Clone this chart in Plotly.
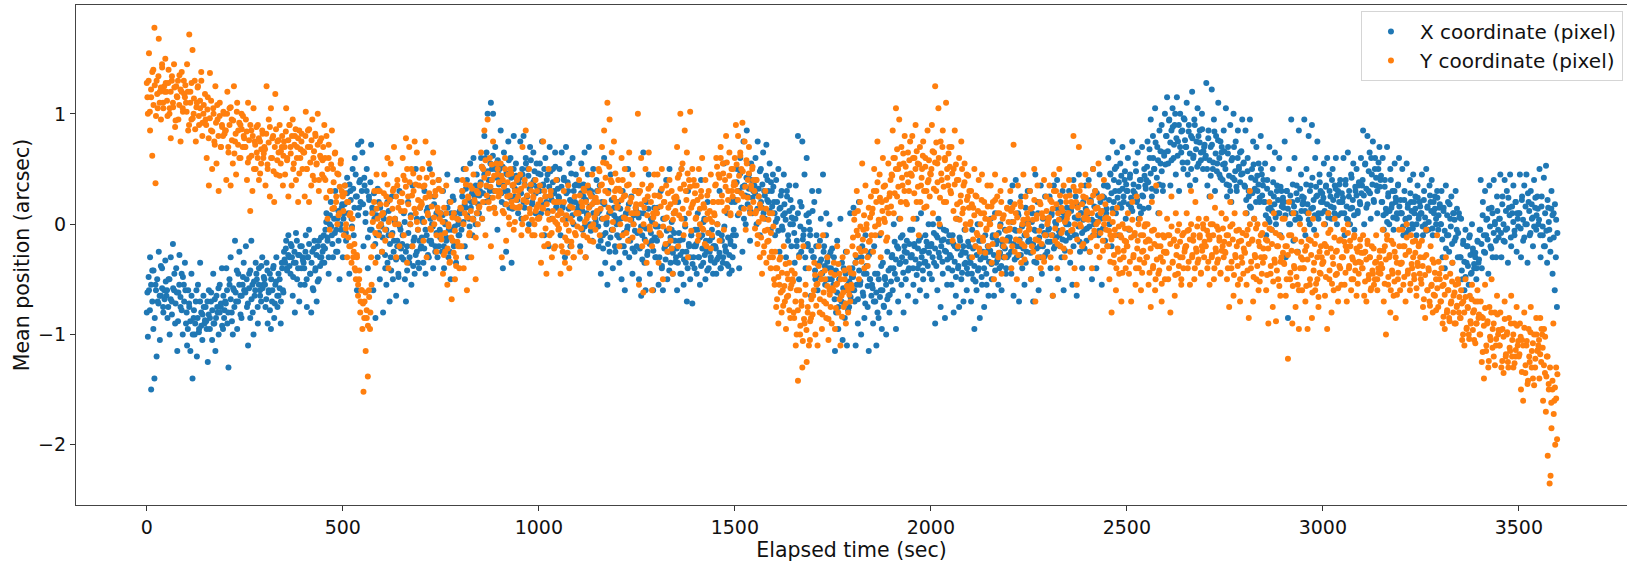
import plotly.graph_objects as go

CHUNK_SEC = 50
x_title = "Elapsed time (sec)"
y_title = "Mean position (arcsec)"
x_ticks = [0, 500, 1000, 1500, 2000, 2500, 3000, 3500]
y_ticks = [-2, -1, 0, 1]
y_tick_labels = ["\u22122", "\u22121", "0", "1"]

# Y values, one row per 50 s of elapsed time: the full spread
x_coord_rows = [
[-0.8,-1.02,-0.6,-0.3,-1.5,-0.42,-0.95,-1.4,-0.55,-1.2,-0.7,-0.25,-1.05,-0.65,-0.4,-0.75,-0.6,-0.33],
[-0.65,-0.85,-0.5,-1.0,-0.3,-0.7,-0.18,-0.6,-0.9,-0.4,-1.15,-0.62,-0.28,-0.75,-0.45,-1.0,-0.55,-0.35],
[-0.9,-1.1,-0.6,-0.75,-1.15,-0.45,-1.4,-0.85,-1.0,-0.7,-1.2,-0.55,-0.95,-0.35,-0.8,-1.05,-0.65,-0.9],
[-0.75,-0.95,-1.25,-0.6,-0.85,-0.7,-1.05,-0.45,-0.9,-1.15,-0.65,-0.8,-1.0,-0.55,-0.75,-0.4,-0.95,-0.85],
[-0.7,-0.4,-0.9,-1.3,-0.55,-0.3,-0.8,-1.0,-0.6,-0.15,-0.7,-0.95,-0.45,-0.25,-0.65,-0.85,-0.55,-0.35],
[-0.6,-0.2,-0.75,-1.1,-0.45,-0.85,-0.15,-0.55,-1.0,-0.65,-0.35,-0.5,-0.9,-0.4,-0.6,-0.7,-0.3,-0.55],
[-0.5,-0.75,-0.35,-0.9,-0.6,-0.45,-0.95,-0.7,-0.4,-0.85,-0.55,-0.3,-0.75,-0.65,-0.5,-0.9,-0.35,-0.6],
[-0.25,-0.35,-0.15,-0.4,-0.1,-0.3,-0.45,-0.2,-0.65,-0.35,-0.8,-0.08,-0.5,-0.28,-0.7,-0.2,-0.4,-0.3],
[-0.35,-0.55,-0.1,-0.75,-0.3,-0.05,-0.45,-0.8,-0.25,-0.6,-0.15,-0.4,-0.7,-0.2,-0.5,-0.3,-0.12,-0.35],
[-0.2,-0.35,-0.05,0.1,-0.15,-0.45,0.0,0.2,-0.1,-0.3,0.05,0.3,-0.05,-0.25,0.12,-0.5,0.0,0.15],
[-0.3,0.1,0.35,-0.15,0.42,0.2,-0.45,0.3,0.05,0.5,-0.1,0.6,0.25,-0.6,0.72,0.15,0.4,0.75],
[0.65,-0.2,0.35,0.1,0.5,-0.4,0.25,-0.05,0.72,0.15,-0.6,0.05,-0.85,-0.1,-0.3,0.2,-0.5,0.0],
[-0.25,-0.8,0.1,-0.4,-0.55,0.2,-0.1,-0.7,-0.3,0.25,-0.5,-0.15,0.05,-0.65,-0.2,-0.45,0.3,-0.05],
[-0.3,-0.1,0.1,-0.5,-0.7,-0.2,0.2,-0.35,0.0,-0.55,0.35,-0.15,-0.45,0.5,-0.25,-0.05,-0.4,0.15],
[-0.2,0.05,-0.35,0.3,-0.45,-0.1,0.15,-0.3,0.5,-0.15,0.0,-0.4,0.25,-0.2,0.1,-0.3,0.4,-0.05],
[0.1,-0.25,0.3,-0.4,0.0,-0.15,0.45,-0.3,0.2,-0.5,-0.05,0.25,-0.2,0.1,-0.35,0.4,0.0,-0.1],
[0.1,-0.05,0.3,0.5,-0.2,0.15,0.4,-0.3,0.05,0.55,0.2,-0.1,0.6,0.25,0.0,0.45,0.3,0.1],
[0.3,0.6,0.05,0.5,0.8,0.2,0.65,1.0,0.4,0.3,1.1,0.5,1.0,0.15,0.7,0.55,-0.05,0.45],
[0.5,0.85,0.2,-0.4,0.65,0.3,-0.25,0.45,0.75,0.15,0.6,-0.35,0.35,0.8,0.25,0.55,0.4,0.1],
[0.3,0.75,0.05,0.45,0.8,0.15,0.6,0.25,0.5,0.0,0.7,0.35,0.2,0.65,0.4,0.1,0.55,0.3],
[0.3,0.55,0.1,0.75,0.35,-0.1,0.6,0.2,0.45,-0.2,0.7,0.25,0.05,0.5,0.3,0.65,0.15,0.4],
[0.25,0.5,-0.1,0.65,0.15,0.4,-0.3,0.7,0.05,0.3,0.55,-0.2,0.2,0.6,0.0,0.35,0.45,0.1],
[0.15,0.35,-0.2,0.55,-0.05,0.25,0.65,-0.3,0.1,0.45,0.7,0.0,0.3,-0.15,0.5,0.2,0.05,0.4],
[0.1,-0.2,0.35,-0.45,0.2,-0.1,0.6,-0.35,0.0,-0.55,0.3,-0.25,0.45,-0.05,-0.4,0.15,-0.2,0.05],
[-0.1,0.2,-0.35,0.05,-0.5,0.3,-0.2,-0.6,0.1,-0.05,0.5,-0.3,-0.15,0.25,-0.45,0.0,-0.25,0.15],
[-0.2,0.3,-0.5,0.1,-0.65,-0.1,0.65,-0.35,-0.6,0.2,-0.25,0.45,-0.45,0.05,-0.15,-0.6,0.15,-0.3],
[-0.3,0.15,-0.55,-0.1,0.3,-0.4,-0.6,0.05,-0.2,0.4,-0.5,-0.25,0.5,-0.35,-0.05,-0.45,0.1,-0.15],
[-0.3,-0.6,0.2,-0.15,-0.45,0.5,-0.25,-0.55,0.05,-0.35,-0.7,0.3,-0.2,-0.5,-0.1,-0.72,-0.3,-0.4],
[-0.2,-0.45,0.1,-0.3,-0.55,0.4,-0.1,-0.35,0.05,-0.5,-0.25,0.2,-0.4,-0.15,-0.3,-0.05,-0.45,-0.2],
[-0.2,-0.45,0.0,-0.3,0.3,-0.4,-0.1,-0.35,0.55,-0.2,-0.25,0.1,-0.38,-0.45,-0.15,0.2,-0.3,-0.05],
[0.2,-0.1,0.5,0.3,-0.4,0.6,0.15,-0.25,0.75,0.35,0.0,0.85,0.25,0.45,-0.15,0.55,0.1,0.3],
[0.35,0.6,0.0,0.75,0.25,-0.1,0.5,0.15,0.65,0.3,0.05,0.72,0.4,0.2,0.55,-0.05,0.3,0.45],
[0.2,-0.1,0.4,0.05,0.5,-0.25,0.15,0.3,-0.05,0.45,0.1,-0.3,0.25,-0.15,0.35,0.0,-0.2,0.15],
[0.05,-0.35,0.35,-0.15,0.8,-0.5,0.2,-0.25,0.75,-0.1,0.45,-0.4,0.6,-0.2,0.1,-0.05,-0.65,0.3],
[-0.3,0.2,-0.5,-0.1,-0.6,0.3,-0.35,0.05,-0.45,0.45,-0.2,-0.55,0.1,-0.3,-0.4,0.0,-0.25,-0.5],
[-0.6,-0.3,-1.15,-0.8,-0.15,-0.95,-0.5,0.05,-0.7,-1.05,-0.4,-0.85,-0.25,-1.1,-0.55,-0.75,0.1,-0.6],
[-0.4,0.15,-0.7,-1.1,-0.3,-0.9,0.2,-0.55,-1.0,-0.2,-0.65,-0.85,-0.1,-0.45,-0.75,-1.15,-0.5,-0.25],
[-0.55,-0.9,-0.2,-0.7,-1.1,-0.45,-0.85,-0.1,-0.6,-0.95,-0.35,-0.75,-0.5,-1.0,-0.25,-0.65,-0.8,-0.4],
[-0.3,-0.6,0.0,-0.45,-0.95,-0.2,-0.7,0.05,-0.35,-0.55,-0.1,-0.8,-0.25,-0.5,-0.15,-0.65,-0.4,-0.05],
[-0.3,-0.05,-0.55,-0.2,-0.7,0.05,-0.4,-0.15,-0.6,0.1,-0.25,-0.5,-0.35,-0.1,-0.65,-0.2,0.0,-0.45],
[-0.2,-0.5,0.0,-0.35,-0.9,-0.1,-0.6,0.05,-0.3,-0.75,-0.15,-0.45,-0.05,-0.85,-0.25,-0.55,-0.4,-0.1],
[-0.3,-0.55,-0.1,-0.8,-0.2,-0.65,0.05,-0.4,-0.75,-0.15,-0.5,-0.25,-0.7,-0.05,-0.35,-0.6,-0.45,-0.2],
[-0.35,-0.7,-0.05,-0.5,-0.95,-0.2,-0.6,0.0,-0.4,-0.85,-0.15,-0.55,-0.3,-0.75,-0.1,-0.45,-0.25,-0.65],
[-0.25,0.05,-0.5,-0.1,-0.65,0.1,-0.35,-0.15,-0.55,-0.4,0.0,-0.6,-0.2,-0.3,-0.05,-0.45,-0.3,-0.12],
[-0.15,0.2,-0.45,0.35,-0.65,-0.05,0.4,-0.3,0.1,-0.7,-0.2,0.25,-0.4,0.0,-0.55,0.15,-0.25,0.3],
[-0.15,0.3,-0.5,0.1,-0.7,-0.05,0.45,-0.35,0.2,-0.6,-0.2,0.35,-0.45,0.05,-0.3,0.25,-0.1,-0.25],
[-0.05,0.25,-0.4,0.1,-0.65,0.35,-0.2,0.0,0.4,-0.5,-0.1,0.2,-0.3,0.3,-0.6,0.05,-0.15,0.15],
[0.0,0.3,-0.35,0.15,-0.55,0.4,-0.1,0.25,-0.65,0.05,0.45,-0.25,0.1,-0.4,0.2,-0.05,0.35,-0.15],
[0.1,0.4,-0.25,0.2,-0.5,0.5,0.0,0.3,-0.4,0.15,-0.1,0.45,0.05,-0.55,0.25,0.35,-0.15,0.1],
[0.35,0.6,0.0,0.45,-0.2,0.75,0.2,0.5,0.1,0.65,-0.1,0.3,0.55,0.15,0.7,0.25,0.4,0.05],
[0.3,0.6,-0.05,0.45,0.15,0.75,0.3,-0.1,0.55,0.2,0.65,0.05,0.4,0.1,0.7,0.25,0.5,0.35],
[0.4,0.75,0.15,0.6,0.95,0.25,0.8,0.5,1.05,0.3,0.7,0.1,0.85,0.55,0.9,0.35,0.65,1.0],
[0.8,1.15,0.55,0.95,0.35,0.85,1.05,0.6,0.9,0.45,1.15,0.75,0.3,1.0,0.65,0.85,0.5,0.95],
[0.7,1.1,0.45,0.9,0.35,0.8,1.2,0.6,0.95,0.4,0.75,1.05,0.55,0.85,0.65,1.0,0.5,0.7],
[0.6,1.28,0.35,0.85,0.25,0.7,1.22,0.5,0.95,0.3,0.8,0.55,1.1,0.45,0.75,0.65,0.4,0.85],
[0.55,1.05,0.25,0.7,0.35,0.9,0.2,0.6,1.0,0.4,0.75,0.3,0.85,0.5,0.65,0.45,0.95,0.55],
[0.35,0.85,0.1,0.6,0.25,0.95,0.15,0.5,0.75,0.05,0.4,0.7,0.3,0.55,0.2,0.8,0.45,0.35],
[0.2,0.55,-0.1,0.4,0.05,0.7,0.15,-0.05,0.5,0.25,0.65,0.0,0.35,0.1,0.6,-0.1,0.3,0.2],
[0.15,0.75,-0.3,0.3,-0.85,0.5,0.0,0.95,0.2,-0.15,0.6,0.1,0.35,-0.25,0.85,0.05,0.45,0.25],
[0.2,0.95,-0.1,0.5,0.1,0.8,0.0,0.35,0.9,0.15,-0.05,0.6,0.25,0.75,0.05,0.45,0.3,0.1],
[0.2,0.55,0.0,0.35,0.6,0.1,0.45,0.25,0.05,0.5,0.15,0.35,0.6,0.0,0.3,0.2,0.4,0.1],
[0.2,0.6,-0.1,0.4,0.05,0.65,0.25,0.0,0.45,0.15,0.55,-0.05,0.3,0.5,0.1,0.35,0.2,0.6],
[0.35,0.85,0.0,0.55,0.15,0.8,0.3,0.65,0.05,0.45,0.75,0.2,0.6,0.35,0.1,0.5,0.7,0.4],
[0.2,0.6,-0.05,0.4,0.1,0.7,0.25,0.0,0.5,0.15,0.3,-0.05,0.55,0.2,0.05,0.35,0.6,0.1],
[0.1,0.5,-0.1,0.3,0.05,0.55,0.15,-0.05,0.4,0.2,0.0,0.45,0.1,0.25,-0.1,0.35,0.05,0.2],
[0.1,0.45,-0.1,0.3,0.0,0.5,0.15,-0.05,0.35,0.2,0.4,-0.1,0.1,0.25,0.05,0.3,-0.05,0.15],
[0.0,0.3,-0.3,0.15,-0.4,0.35,-0.1,0.2,-0.25,0.05,0.25,-0.35,0.1,-0.15,0.3,-0.05,-0.3,0.1],
[-0.3,0.05,-0.5,-0.15,-0.6,-0.05,-0.35,-0.2,-0.55,-0.1,-0.45,0.0,-0.25,-0.4,-0.3,-0.5,-0.15,-0.35],
[-0.05,0.4,-0.4,0.2,-0.25,0.3,-0.1,0.05,-0.45,0.35,-0.2,0.15,-0.3,0.4,0.0,-0.15,0.25,-0.05],
[0.05,0.45,-0.3,0.25,-0.15,0.4,-0.05,0.3,-0.35,0.15,0.45,-0.2,0.1,0.35,-0.1,0.2,-0.25,0.05],
[0.1,0.45,-0.3,0.25,-0.15,0.35,0.0,0.45,-0.35,0.2,-0.1,0.3,0.05,-0.2,0.4,0.15,-0.05,0.25],
[0.0,0.5,-0.3,0.25,-0.1,0.42,-0.2,0.53,-0.35,0.15,-0.05,-0.25,0.3,-0.45,0.1,-0.6,-0.3,-0.75],
]

# The same 50 s rows: the dense middle of the X band
x_core_rows = [
[-.62,-.48,-.78,-.55,-.7,-.42,-.85,-.6,-.5,-.72,-.65,-.38,-.58,-.8,-.68,-.52],
[-.6,-.75,-.5,-.68,-.82,-.58,-.45,-.72,-.62,-.88,-.55,-.66,-.78,-.48,-.7,-.6],
[-.8,-.95,-.72,-.88,-.65,-1.0,-.78,-.9,-.6,-.85,-.98,-.7,-.92,-.82,-.75,-.87],
[-.88,-.7,-.82,-.95,-.62,-.78,-.9,-.68,-.85,-.75,-.58,-.8,-.72,-.92,-.65,-.78],
[-.72,-.6,-.8,-.5,-.68,-.88,-.58,-.75,-.62,-.42,-.7,-.55,-.82,-.65,-.48,-.6],
[-.62,-.5,-.72,-.58,-.42,-.68,-.8,-.52,-.6,-.45,-.75,-.55,-.65,-.38,-.58,-.48],
[-.55,-.68,-.42,-.62,-.78,-.5,-.6,-.38,-.72,-.52,-.65,-.45,-.58,-.7,-.4,-.62],
[-.32,-.22,-.42,-.28,-.38,-.18,-.3,-.48,-.25,-.35,-.15,-.4,-.28,-.55,-.2,-.33],
[-.4,-.25,-.5,-.3,-.18,-.45,-.35,-.58,-.22,-.42,-.28,-.52,-.15,-.38,-.3,-.25],
[-.1,-.22,.02,-.12,-.3,.08,-.02,-.18,.14,-.08,-.25,.05,-.15,.1,-.05,.18],
[.05,.18,-.08,.28,.1,.36,.22,-.02,.32,.15,.45,.25,.08,.38,.2,.3],
[.18,.42,.02,.3,-.12,.22,.38,-.05,.12,.28,-.18,.08,.32,-.08,.15,-.02],
[-.12,.05,-.28,-.05,-.35,.12,-.18,-.42,-.08,-.25,.02,-.32,-.15,-.48,-.02,-.22],
[-.18,-.32,.02,-.25,-.42,-.08,-.3,.08,-.2,-.38,-.12,-.28,.05,-.35,-.15,-.22],
[-.12,.02,-.22,-.05,.12,-.28,-.15,.05,-.18,-.02,.18,-.25,-.08,.08,-.2,-.12],
[-.08,.08,-.2,.02,-.12,.15,-.05,-.25,.1,-.15,.22,-.02,-.18,.05,-.1,.12],
[.12,.25,.02,.18,.32,.08,.22,-.02,.15,.28,.05,.2,.35,.1,.18,.26],
[.38,.52,.28,.45,.6,.34,.48,.24,.55,.4,.62,.3,.5,.42,.58,.36],
[.4,.28,.52,.35,.18,.46,.3,.58,.24,.42,.14,.5,.32,.44,.22,.38],
[.42,.28,.5,.2,.36,.55,.25,.44,.32,.58,.18,.38,.48,.28,.34,.46],
[.3,.45,.18,.36,.5,.25,.4,.12,.34,.48,.22,.38,.28,.52,.16,.32],
[.24,.1,.34,.18,.42,.05,.28,.38,.14,.22,.46,.08,.3,.2,.36,.12],
[.18,.05,.28,.12,.36,-.02,.22,.08,.32,.16,-.06,.26,.1,.2,.02,.3],
[-.02,.12,-.15,.05,-.22,.18,-.08,.02,-.18,.1,-.12,.22,-.05,.08,-.25,0],
[.02,-.12,.14,-.2,.06,-.08,-.26,.1,-.02,.18,-.14,.04,-.22,.08,-.06,.12],
[-.08,.06,-.22,-.02,-.32,.1,-.14,-.04,-.28,.14,-.18,-.08,.02,-.24,-.12,-.02],
[-.15,-.02,-.3,-.1,-.38,.05,-.22,-.32,-.06,-.18,-.42,-.12,.02,-.26,-.08,-.34],
[-.22,-.35,-.08,-.28,-.45,-.14,-.32,-.02,-.25,-.4,-.18,-.3,-.1,-.36,-.2,-.05],
[-.18,-.05,-.3,-.12,-.38,-.22,.02,-.28,-.15,-.42,-.08,-.25,-.33,-.12,-.2,-.35],
[-.22,-.32,-.08,-.26,-.4,-.15,-.3,-.02,-.24,-.36,-.12,-.28,-.18,-.42,-.1,-.2],
[.22,.38,.08,.3,.46,.15,.34,.05,.26,.42,.18,.32,.12,.4,.24,.3],
[.28,.4,.14,.32,.48,.2,.36,.1,.26,.44,.22,.3,.12,.38,.16,.34],
[.1,.02,.2,-.06,.14,.26,-.02,.08,.18,.04,.3,-.1,.12,.22,.06,0],
[-.08,.05,-.2,.1,-.28,-.02,.16,-.14,-.05,-.3,.08,-.18,.02,-.1,-.24,.12],
[-.3,-.42,-.2,-.36,-.48,-.15,-.32,-.44,-.25,-.38,-.1,-.34,-.5,-.28,-.4,-.22],
[-.55,-.68,-.42,-.62,-.75,-.5,-.65,-.35,-.58,-.72,-.45,-.6,-.78,-.52,-.66,-.48],
[-.48,-.6,-.35,-.55,-.68,-.42,-.52,-.3,-.62,-.45,-.72,-.38,-.56,-.28,-.5,-.65],
[-.58,-.7,-.45,-.62,-.8,-.5,-.66,-.38,-.6,-.74,-.48,-.55,-.68,-.42,-.64,-.52],
[-.28,-.4,-.16,-.32,-.5,-.22,-.36,-.12,-.3,-.44,-.2,-.34,-.26,-.42,-.18,-.3],
[-.28,-.4,-.18,-.32,-.46,-.22,-.36,-.12,-.3,-.42,-.24,-.34,-.16,-.38,-.26,-.2],
[-.18,-.3,-.08,-.22,-.38,-.12,-.26,-.02,-.2,-.34,-.14,-.24,-.06,-.32,-.16,-.28],
[-.3,-.42,-.18,-.34,-.48,-.22,-.38,-.12,-.28,-.44,-.2,-.36,-.26,-.4,-.16,-.3],
[-.35,-.45,-.22,-.38,-.52,-.28,-.42,-.15,-.32,-.48,-.25,-.4,-.3,-.55,-.2,-.34],
[-.24,-.36,-.12,-.28,-.42,-.18,-.32,-.08,-.26,-.38,-.16,-.3,-.22,-.4,-.14,-.28],
[-.12,-.25,.02,-.18,-.32,-.06,-.2,.08,-.14,-.28,-.02,-.22,-.1,-.35,.04,-.16],
[-.14,-.26,.02,-.18,-.34,-.06,-.22,.1,-.12,-.3,-.02,-.2,-.08,-.28,.05,-.16],
[-.04,-.16,.08,-.1,-.22,.02,-.12,.14,-.06,-.2,.05,-.14,.1,-.24,0,-.08],
[0,-.12,.12,-.06,-.2,.06,-.1,.18,-.02,-.16,.1,-.08,.04,-.22,.14,-.04],
[.1,-.02,.22,.04,-.1,.16,.02,.28,.08,-.06,.2,.12,-.04,.24,.06,.14],
[.34,.22,.46,.28,.14,.4,.3,.52,.24,.38,.18,.44,.32,.2,.48,.36],
[.3,.18,.42,.24,.12,.36,.28,.48,.22,.34,.16,.4,.26,.14,.44,.32],
[.52,.38,.68,.46,.32,.6,.5,.74,.42,.58,.36,.66,.48,.3,.62,.54],
[.8,.66,.94,.74,.58,.88,.72,1.0,.78,.62,.9,.7,.84,.56,.96,.76],
[.7,.56,.84,.64,.5,.78,.62,.9,.68,.52,.8,.74,.58,.86,.66,.72],
[.62,.5,.78,.58,.44,.72,.56,.84,.64,.48,.76,.6,.42,.7,.54,.66],
[.5,.36,.64,.44,.3,.58,.42,.7,.48,.34,.6,.52,.38,.66,.46,.56],
[.34,.22,.48,.3,.16,.42,.28,.54,.32,.2,.44,.36,.24,.5,.26,.4],
[.2,.08,.32,.14,.02,.28,.12,.38,.18,.06,.3,.22,.1,.34,.16,.24],
[.2,.08,.3,.14,0,.26,.1,.36,.16,.04,.28,.22,.06,.32,.12,.18],
[.24,.12,.36,.18,.04,.3,.14,.42,.22,.08,.34,.26,.1,.38,.2,.28],
[.24,.12,.34,.18,.06,.3,.16,.4,.22,.1,.32,.26,.08,.36,.2,.28],
[.24,.1,.36,.16,.04,.3,.14,.42,.22,.08,.34,.26,.12,.38,.18,.28],
[.4,.26,.54,.32,.18,.48,.28,.6,.36,.22,.5,.42,.3,.56,.34,.44],
[.2,.08,.34,.14,.02,.28,.12,.4,.18,.06,.3,.24,.1,.36,.16,.22],
[.1,-.02,.22,.04,-.08,.18,.06,.28,.12,-.04,.2,.14,0,.24,.08,.16],
[.1,-.02,.22,.06,-.06,.16,.02,.26,.12,-.04,.2,.14,0,.24,.08,.18],
[0,-.14,.12,-.06,-.22,.08,-.1,.18,-.02,-.18,.1,.04,-.12,.14,-.08,.06],
[-.3,-.42,-.18,-.34,-.48,-.2,-.38,-.12,-.28,-.44,-.22,-.36,-.26,-.4,-.16,-.32],
[-.05,-.18,.08,-.1,-.26,.04,-.14,.14,-.02,-.22,.1,-.08,.02,-.3,.12,-.12],
[.05,-.08,.18,0,-.16,.12,-.04,.24,.08,-.12,.16,.02,-.06,.2,.1,-.02],
[.1,-.04,.22,.04,-.12,.16,0,.28,.12,-.08,.18,.06,-.02,.24,.08,.14],
[.04,-.1,.16,-.02,-.2,.1,-.06,.22,.02,-.14,.14,.08,-.12,.18,.04,-.08],
]

y_coord_rows = [
[1.28,1.0,1.55,0.85,1.15,0.62,1.4,1.78,0.37,1.3,1.05,1.68,1.2,0.95,1.45,1.1,1.25,1.5],
[1.2,0.98,1.4,1.05,0.78,1.3,1.1,1.45,0.88,1.25,1.15,0.95,1.35,0.75,1.2,1.05,1.3,1.15],
[1.1,1.45,0.85,1.72,1.2,0.95,1.58,1.0,1.3,0.75,1.1,1.25,0.9,1.05,1.38,0.8,1.0,0.92],
[0.95,0.6,1.15,0.35,1.37,0.85,0.5,1.05,0.75,1.25,0.55,0.95,0.3,1.1,0.7,0.9,0.8,1.0],
[0.85,0.4,1.2,0.65,1.05,0.35,0.95,0.55,1.25,0.75,0.45,1.1,0.85,0.6,0.9,1.0,0.7,0.8],
[0.7,0.95,0.4,1.1,0.6,0.12,0.85,0.3,1.05,0.75,0.5,0.65,0.9,0.4,0.75,0.55,0.85,0.6],
[0.7,0.35,1.25,0.5,0.95,0.25,1.05,0.6,0.8,0.2,1.18,0.45,0.75,0.65,0.9,0.55,0.7,0.35],
[0.75,0.45,1.05,0.6,0.25,0.9,0.7,0.35,0.95,0.55,0.8,0.4,0.7,0.2,0.85,0.6,0.75,0.5],
[0.65,0.25,1.02,0.5,0.85,0.2,0.7,0.35,0.95,0.6,0.4,0.8,0.55,1.0,0.3,0.75,0.6,0.45],
[0.7,0.9,0.4,0.8,0.05,0.6,-0.05,0.3,0.85,0.5,0.15,0.65,0.25,0.0,0.45,0.1,0.55,0.3],
[0.25,-0.1,0.35,0.0,-0.3,0.2,-0.2,0.1,-0.35,0.05,-0.25,-0.4,-0.5,-0.3,-0.65,-0.5,-0.8,-0.6],
[-0.95,-1.52,-0.7,-1.15,-0.85,-1.38,-0.6,-0.95,-0.3,0.1,-0.2,0.3,-0.35,0.45,0.05,-0.1,0.3,0.0],
[-0.25,0.1,0.45,-0.15,0.25,0.6,-0.4,0.05,0.55,-0.1,0.3,0.7,0.0,-0.3,0.35,0.15,-0.2,0.2],
[0.2,0.6,-0.1,0.4,0.78,-0.35,0.25,0.7,0.0,0.5,-0.2,0.3,0.75,0.1,0.65,-0.05,0.35,0.15],
[0.2,0.5,-0.15,0.35,0.75,-0.3,0.1,0.55,0.25,-0.05,0.45,0.65,0.0,0.3,-0.25,0.15,0.4,0.05],
[-0.1,0.3,-0.45,0.15,-0.25,0.35,-0.55,0.0,-0.35,0.2,-0.68,-0.15,0.1,-0.5,-0.3,0.05,-0.2,-0.4],
[0.15,-0.2,0.4,-0.4,0.1,0.5,-0.6,0.25,-0.1,0.35,-0.3,0.05,0.45,0.2,-0.5,0.3,0.0,0.15],
[0.35,0.65,0.05,0.5,0.85,-0.1,0.35,0.95,0.2,0.6,-0.2,0.4,0.75,0.15,0.3,0.55,0.45,0.25],
[0.3,0.55,-0.3,0.4,0.1,0.6,-0.15,0.25,0.45,0.0,0.5,0.2,0.35,-0.05,0.3,0.15,0.4,0.25],
[0.15,0.45,-0.1,0.7,0.05,0.35,0.85,0.2,-0.05,0.5,0.1,0.3,-0.1,0.25,0.0,0.4,0.15,0.05],
[0.05,0.35,-0.35,0.15,0.75,-0.2,0.25,-0.45,0.1,0.5,-0.1,0.3,-0.3,0.05,0.2,-0.2,0.4,0.0],
[-0.05,0.2,-0.45,0.1,-0.25,0.3,-0.35,0.0,-0.15,0.35,-0.4,0.05,-0.2,0.15,-0.3,0.25,-0.1,0.1],
[0.1,0.4,-0.25,0.2,0.5,-0.1,0.3,-0.3,0.05,0.35,0.15,-0.15,0.25,0.45,0.0,0.2,-0.05,0.1],
[0.2,0.5,-0.1,0.35,0.7,0.05,0.85,0.3,0.55,1.1,0.15,0.95,0.4,0.65,-0.05,0.75,0.3,0.2],
[0.15,0.4,-0.2,0.3,0.6,-0.1,0.25,0.5,0.05,0.35,-0.15,0.65,0.2,0.1,0.45,0.0,0.3,0.15],
[0.1,1.0,-0.55,0.3,0.6,-0.2,-0.62,0.15,0.5,-0.35,0.25,0.65,-0.05,0.35,-0.6,0.1,0.45,0.0],
[0.1,0.45,-0.35,0.25,-0.1,0.5,-0.5,0.2,0.05,0.35,-0.25,0.15,0.4,-0.15,0.3,-0.45,0.1,0.2],
[0.25,0.7,-0.2,0.45,1.0,0.05,0.55,-0.1,0.85,0.3,0.65,-0.3,0.4,1.02,0.15,0.5,0.2,0.35],
[0.05,0.35,-0.15,0.5,0.0,0.25,0.6,-0.05,0.15,0.4,-0.2,0.1,0.3,0.05,0.45,-0.1,0.2,0.1],
[0.35,0.6,0.0,0.45,-0.15,0.7,0.2,0.55,-0.05,0.4,0.8,0.15,0.3,0.65,0.1,0.5,0.25,0.35],
[0.6,0.9,0.3,0.8,0.1,0.65,0.5,0.92,0.25,0.75,-0.05,0.55,0.4,0.7,0.15,0.35,0.5,0.2],
[0.3,0.1,0.4,-0.1,0.25,-0.3,0.15,-0.45,0.05,-0.2,0.3,-0.35,-0.05,-0.15,0.1,-0.4,-0.25,-0.3],
[-0.5,-0.25,-0.75,-0.4,-0.9,-0.55,-0.3,-0.8,-0.6,-0.2,-0.7,-0.95,-0.45,-0.65,-0.35,-0.85,-0.55,-0.5],
[-0.8,-0.45,-1.1,-0.6,-1.42,-0.3,-1.0,-0.7,-1.3,-0.2,-0.9,-0.55,-1.25,-0.75,-0.4,-1.05,-0.85,-0.65],
[-0.65,-0.35,-1.0,-0.55,-1.1,-0.2,-0.8,-0.45,-0.95,-0.1,-0.7,-0.5,-0.85,-0.3,-1.05,-0.6,-0.75,-0.9],
[-0.6,-0.35,-0.95,-0.55,-0.2,-0.8,-0.45,-1.1,-0.65,-0.3,-0.75,-0.5,-0.9,-0.25,-0.6,-0.4,-0.7,-0.55],
[-0.2,-0.45,0.1,-0.35,0.3,-0.1,-0.5,0.2,-0.25,0.55,-0.05,-0.4,0.35,0.0,-0.3,0.15,-0.15,0.25],
[0.1,-0.25,0.5,-0.1,0.3,0.75,0.0,0.45,-0.3,0.2,0.6,0.05,0.35,-0.15,0.15,0.55,0.25,0.4],
[0.45,0.85,0.1,0.6,1.05,0.25,0.5,0.95,0.05,0.7,0.35,0.55,0.8,0.2,0.45,0.65,0.3,0.75],
[0.45,0.8,0.05,0.6,0.9,0.2,0.55,-0.1,0.7,0.35,0.5,0.75,0.15,0.6,0.3,0.85,0.4,0.25],
[0.45,0.9,0.1,0.65,1.25,0.3,0.55,1.05,0.0,0.75,0.4,0.85,0.2,0.6,1.1,0.5,0.35,0.7],
[0.3,0.7,-0.15,0.5,0.85,0.05,0.4,-0.2,0.6,0.2,0.75,0.1,0.35,0.55,-0.05,0.45,0.25,0.15],
[0.0,0.3,-0.3,0.15,0.5,-0.2,0.25,-0.1,0.4,-0.25,0.1,0.45,-0.15,0.2,0.05,-0.05,0.35,-0.2],
[0.0,0.35,-0.35,0.2,-0.5,0.45,-0.1,0.25,-0.3,0.1,0.3,-0.45,0.05,-0.2,0.4,-0.15,0.15,-0.05],
[-0.05,0.3,-0.4,0.15,0.72,-0.25,0.1,-0.5,0.35,-0.15,0.2,-0.35,0.0,0.45,-0.2,0.25,-0.1,0.05],
[-0.05,0.3,-0.5,0.15,-0.25,0.5,-0.7,0.05,0.35,-0.15,0.2,-0.4,0.1,-0.3,0.4,-0.1,0.25,0.0],
[0.05,0.35,-0.3,0.2,-0.65,0.45,-0.15,0.3,-0.4,0.1,0.5,-0.2,0.15,-0.05,0.35,-0.3,0.25,0.05],
[0.1,0.4,-0.25,0.2,-0.05,0.8,-0.4,0.3,-0.55,0.15,0.7,0.0,0.35,-0.2,0.25,0.05,0.45,0.1],
[0.05,0.35,-0.25,0.2,-0.4,0.5,-0.1,0.3,0.0,0.15,0.55,-0.3,0.1,0.25,-0.15,0.4,0.05,-0.05],
[-0.2,0.05,-0.5,-0.1,-0.8,0.1,-0.35,-0.05,-0.6,0.15,-0.25,-0.45,-0.1,-0.7,0.0,-0.3,-0.15,-0.4],
[-0.2,0.1,-0.45,-0.05,-0.7,0.2,-0.3,-0.1,-0.55,0.25,-0.15,-0.4,0.05,-0.6,-0.25,-0.1,-0.35,0.0],
[-0.3,0.0,-0.55,-0.15,-0.75,0.2,-0.4,-0.05,-0.6,0.35,-0.2,-0.45,0.1,-0.3,-0.7,-0.1,-0.25,-0.5],
[-0.25,0.05,-0.5,-0.1,-0.8,0.25,-0.35,-0.15,-0.65,0.1,-0.2,-0.45,0.0,-0.3,-0.55,-0.1,-0.4,-0.25],
[-0.2,0.1,-0.4,-0.05,-0.55,0.3,-0.3,-0.15,-0.5,0.2,-0.25,-0.35,0.05,-0.1,-0.45,-0.2,0.0,-0.3],
[-0.2,0.05,-0.4,-0.1,-0.55,0.25,-0.3,0.0,-0.5,0.15,-0.25,-0.35,-0.05,-0.15,-0.45,0.1,-0.2,-0.3],
[-0.25,0.05,-0.5,-0.1,-0.75,0.2,-0.4,0.0,-0.65,0.1,-0.3,-0.2,-0.55,-0.05,-0.7,-0.15,-0.35,-0.45],
[-0.25,0.1,-0.55,-0.05,-0.85,0.3,-0.4,-0.15,-0.7,0.05,-0.3,-0.5,0.0,-0.6,-0.2,-0.1,-0.45,-0.35],
[-0.3,0.0,-0.6,-0.15,-0.9,0.2,-0.45,-0.05,-0.75,0.1,-0.35,-0.88,-0.2,-0.5,-0.1,-0.65,-0.3,0.05],
[-0.35,0.05,-0.65,-0.2,-1.22,0.2,-0.5,-0.1,-0.9,0.1,-0.4,-0.75,-0.25,-0.55,-0.95,0.0,-0.3,-0.6],
[-0.4,-0.05,-0.7,-0.2,-0.95,0.1,-0.55,-0.15,-0.85,0.05,-0.35,-0.6,-0.1,-0.5,-0.75,-0.25,-0.45,-0.3],
[-0.35,0.0,-0.65,-0.2,-0.95,0.1,-0.5,-0.05,-0.8,-0.3,-0.6,0.05,-0.25,-0.45,-0.7,-0.15,-0.4,-0.55],
[-0.3,-0.05,-0.55,-0.2,-0.7,0.0,-0.4,-0.15,-0.6,-0.3,-0.5,-0.1,-0.35,-0.65,-0.25,-0.45,-0.2,-0.35],
[-0.4,-0.1,-0.65,-0.25,-0.7,-0.15,-0.5,-0.3,-0.6,-0.2,-0.45,-0.55,-0.35,-0.1,-0.5,-0.4,-0.3,-0.45],
[-0.4,-0.05,-0.7,-0.2,-1.0,-0.1,-0.55,-0.3,-0.8,-0.15,-0.45,-0.65,-0.25,-0.85,-0.35,-0.5,-0.05,-0.6],
[-0.35,-0.05,-0.55,-0.2,-0.7,0.0,-0.45,-0.25,-0.6,-0.1,-0.4,-0.3,-0.5,-0.15,-0.65,-0.35,-0.2,-0.45],
[-0.5,-0.15,-0.75,-0.3,-0.85,-0.05,-0.6,-0.4,-0.7,-0.2,-0.55,-0.8,-0.35,-0.65,-0.5,-0.1,-0.75,-0.45],
[-0.7,-0.4,-0.9,-0.55,-0.95,-0.3,-0.8,-0.6,-0.85,-0.45,-0.7,-0.35,-0.65,-0.9,-0.55,-0.75,-0.5,-0.8],
[-0.85,-0.6,-1.05,-0.7,-1.1,-0.5,-0.95,-0.75,-1.0,-0.65,-0.9,-0.55,-0.8,-1.05,-0.7,-0.9,-0.6,-0.85],
[-1.0,-0.7,-1.25,-0.85,-1.4,-0.55,-1.15,-0.9,-1.3,-0.75,-1.05,-0.5,-0.95,-1.2,-0.8,-1.1,-0.65,-1.0],
[-1.1,-0.8,-1.3,-0.95,-1.35,-0.7,-1.2,-1.0,-1.25,-0.85,-1.15,-0.65,-1.05,-1.3,-0.9,-1.2,-0.75,-1.1],
[-1.2,-0.9,-1.5,-1.05,-1.6,-0.8,-1.35,-1.1,-1.45,-0.95,-1.25,-0.75,-1.15,-1.4,-1.0,-1.3,-0.85,-1.15],
[-1.1,-1.4,-0.85,-1.25,-1.0,-1.6,-0.95,-1.35,-1.7,-1.2,-2.1,-1.45,-2.35,-2.28,-1.85,-1.5,-0.9,-1.6,-2.0,-1.3,-1.95],
]

# The same 50 s rows: the dense middle of the Y band
y_core_rows = [
[1.15,1.3,1.02,1.22,1.38,1.08,1.26,0.98,1.18,1.34,1.1,1.24,1.42,1.05,1.2,1.28],
[1.12,1.28,1.0,1.2,1.34,1.06,1.24,.94,1.16,1.3,1.08,1.22,1.38,1.02,1.18,1.26],
[1.02,1.2,.9,1.1,1.28,.96,1.14,.86,1.06,1.24,.98,1.12,1.3,.92,1.08,1.18],
[.9,1.04,.78,.96,1.12,.84,1,.72,.92,1.08,.8,.98,.7,.88,1.02,.82],
[.85,1,.7,.9,1.06,.76,.94,.64,.82,1.02,.72,.92,.6,.86,.98,.78],
[.7,.84,.56,.76,.9,.62,.8,.5,.72,.88,.6,.78,.46,.68,.82,.64],
[.68,.82,.54,.74,.88,.6,.78,.48,.7,.86,.58,.76,.44,.66,.8,.62],
[.7,.84,.58,.76,.9,.64,.8,.5,.72,.86,.6,.78,.46,.68,.82,.66],
[.65,.8,.5,.7,.86,.56,.76,.44,.66,.82,.54,.72,.4,.62,.78,.58],
[.42,.6,.24,.5,.72,.3,.54,.14,.38,.64,.2,.46,.08,.34,.58,.26],
[.12,.28,-.04,.2,-.12,.08,-.2,-.04,-.3,-.18,-.42,-.28,-.55,-.42,-.7,-.6],
[-.72,-.85,-.62,-.78,-.92,-.66,-.8,-.55,.02,.2,-.08,.14,.3,-.02,.18,.08],
[.1,.28,-.05,.18,.36,.02,.22,-.1,.14,.32,.05,.25,.4,0,.2,.12],
[.28,.44,.12,.34,.5,.18,.38,.06,.26,.46,.14,.36,.02,.22,.42,.16],
[.18,.34,.02,.24,.42,.08,.28,-.04,.16,.38,.06,.26,-.1,.12,.32,.1],
[-.14,.02,-.28,-.08,.1,-.22,-.02,-.34,-.12,.06,-.26,-.06,-.38,-.16,.04,-.2],
[.14,.3,0,.2,.36,.06,.24,-.08,.12,.32,.04,.22,-.12,.1,.28,.16],
[.36,.52,.2,.42,.58,.26,.46,.14,.34,.54,.24,.44,.1,.3,.5,.38],
[.28,.44,.12,.34,.5,.18,.38,.06,.26,.46,.16,.36,.02,.22,.42,.3],
[.16,.32,0,.22,.4,.06,.26,-.06,.14,.36,.04,.24,-.1,.12,.3,.18],
[.06,.22,-.1,.14,.3,-.04,.18,-.18,.04,.26,-.08,.12,-.22,.02,.2,.08],
[-.04,.12,-.2,.04,.2,-.12,.08,-.26,-.06,.16,-.16,.02,-.3,-.08,.1,-.02],
[.1,.26,-.04,.16,.32,.02,.2,-.12,.08,.28,-.02,.18,-.16,.06,.24,.12],
[.3,.48,.14,.36,.56,.2,.42,.06,.28,.52,.12,.38,.02,.24,.46,.32],
[.16,.32,0,.22,.4,.06,.26,-.08,.14,.36,.04,.24,-.12,.1,.3,.18],
[.1,.28,-.06,.18,.36,0,.22,-.16,.08,.32,-.02,.2,-.2,.06,.26,.14],
[.1,.26,-.08,.16,.32,-.02,.2,-.18,.06,.28,-.04,.18,-.22,.04,.24,.12],
[.24,.42,.08,.32,.5,.14,.36,0,.22,.46,.1,.34,-.06,.18,.4,.28],
[.06,.22,-.1,.14,.3,-.04,.18,-.18,.04,.26,-.08,.12,-.22,.02,.2,.08],
[.36,.52,.2,.42,.6,.26,.46,.12,.34,.56,.22,.44,.08,.3,.5,.38],
[.36,.54,.22,.44,.62,.28,.48,.14,.34,.58,.24,.46,.1,.32,.52,.4],
[-.04,.12,-.18,.02,.18,-.12,.06,-.26,-.06,.14,-.16,.04,-.3,-.08,.1,-.02],
[-.55,-.4,-.68,-.48,-.32,-.62,-.44,-.74,-.56,-.36,-.66,-.5,-.78,-.58,-.42,-.52],
[-.85,-.7,-1,-.78,-.6,-.92,-.74,-1.06,-.86,-.64,-.96,-.8,-1.1,-.88,-.68,-.82],
[-.6,-.46,-.74,-.54,-.38,-.68,-.5,-.82,-.62,-.42,-.72,-.56,-.86,-.64,-.44,-.58],
[-.6,-.46,-.76,-.54,-.36,-.68,-.5,-.84,-.62,-.42,-.72,-.56,-.8,-.64,-.44,-.58],
[-.12,.04,-.28,-.06,.12,-.22,-.02,-.34,-.14,.08,-.24,-.04,-.38,-.16,.06,-.1],
[.14,.3,-.02,.2,.38,.04,.24,-.08,.12,.34,.02,.22,-.12,.1,.28,.16],
[.44,.6,.28,.5,.68,.34,.54,.2,.42,.64,.3,.52,.18,.38,.58,.46],
[.44,.6,.28,.5,.66,.34,.54,.2,.42,.62,.3,.52,.16,.38,.58,.46],
[.5,.66,.32,.56,.74,.38,.6,.24,.46,.7,.34,.58,.2,.42,.64,.52],
[.28,.46,.12,.36,.54,.18,.4,.04,.26,.5,.14,.38,0,.22,.44,.3],
[.02,.18,-.14,.08,.26,-.08,.12,-.22,0,.22,-.12,.1,-.26,-.04,.16,.04],
[0,.16,-.18,.06,.22,-.1,.1,-.26,-.02,.2,-.14,.08,-.3,-.06,.14,.02],
[-.04,.12,-.2,.02,.18,-.14,.06,-.28,-.06,.16,-.18,.04,-.32,-.08,.1,0],
[-.04,.14,-.2,.04,.22,-.14,.08,-.3,-.06,.18,-.18,.06,-.34,-.1,.12,.02],
[.06,.22,-.1,.14,.3,-.04,.18,-.18,.04,.26,-.08,.12,-.22,.02,.2,.08],
[.1,.26,-.06,.16,.34,0,.2,-.14,.08,.3,-.02,.18,-.18,.06,.24,.12],
[.04,.2,-.12,.1,.26,-.06,.14,-.2,.02,.24,-.08,.12,-.24,0,.18,.06],
[-.2,-.06,-.34,-.14,.02,-.28,-.1,-.4,-.22,-.02,-.32,-.12,-.44,-.24,-.04,-.16],
[-.2,-.04,-.34,-.12,.04,-.28,-.08,-.4,-.22,0,-.32,-.1,-.44,-.24,-.02,-.16],
[-.3,-.14,-.44,-.22,-.06,-.38,-.18,-.5,-.32,-.1,-.42,-.2,-.54,-.34,-.12,-.26],
[-.26,-.1,-.4,-.18,-.02,-.34,-.14,-.46,-.28,-.06,-.38,-.16,-.5,-.3,-.08,-.22],
[-.2,-.06,-.34,-.14,0,-.28,-.1,-.4,-.22,-.02,-.32,-.12,-.44,-.24,-.04,-.16],
[-.2,-.06,-.34,-.14,0,-.28,-.1,-.4,-.22,-.02,-.32,-.12,-.44,-.24,-.04,-.16],
[-.26,-.1,-.4,-.18,-.02,-.34,-.14,-.46,-.28,-.06,-.38,-.16,-.5,-.3,-.08,-.22],
[-.26,-.1,-.42,-.18,0,-.34,-.14,-.48,-.28,-.04,-.38,-.16,-.52,-.3,-.08,-.22],
[-.3,-.14,-.46,-.22,-.04,-.38,-.18,-.52,-.32,-.08,-.42,-.2,-.56,-.34,-.12,-.26],
[-.36,-.2,-.5,-.28,-.1,-.44,-.24,-.56,-.38,-.14,-.48,-.26,-.6,-.4,-.16,-.32],
[-.4,-.24,-.56,-.32,-.14,-.5,-.28,-.62,-.42,-.18,-.54,-.3,-.66,-.44,-.2,-.36],
[-.34,-.18,-.48,-.26,-.08,-.42,-.22,-.54,-.36,-.12,-.46,-.24,-.58,-.38,-.14,-.3],
[-.3,-.16,-.44,-.24,-.08,-.38,-.2,-.5,-.32,-.12,-.42,-.22,-.54,-.34,-.14,-.26],
[-.4,-.26,-.52,-.32,-.18,-.46,-.3,-.58,-.42,-.22,-.5,-.34,-.6,-.44,-.24,-.36],
[-.4,-.24,-.54,-.32,-.14,-.48,-.28,-.6,-.42,-.18,-.52,-.3,-.64,-.44,-.2,-.36],
[-.35,-.2,-.48,-.28,-.12,-.42,-.24,-.54,-.36,-.16,-.46,-.26,-.58,-.38,-.18,-.3],
[-.54,-.38,-.68,-.46,-.28,-.6,-.42,-.74,-.56,-.32,-.64,-.44,-.78,-.58,-.34,-.5],
[-.7,-.56,-.84,-.64,-.48,-.78,-.6,-.88,-.72,-.52,-.8,-.62,-.9,-.74,-.54,-.66],
[-.85,-.72,-1,-.8,-.66,-.94,-.76,-1.04,-.88,-.68,-.96,-.78,-1.08,-.9,-.7,-.82],
[-1,-.84,-1.16,-.92,-.76,-1.1,-.88,-1.24,-1.02,-.8,-1.12,-.9,-1.28,-1.04,-.82,-.96],
[-1.1,-.96,-1.24,-1.02,-.86,-1.18,-.98,-1.3,-1.12,-.9,-1.2,-1,-1.26,-1.14,-.92,-1.06],
[-1.18,-1.02,-1.34,-1.1,-.94,-1.28,-1.06,-1.42,-1.2,-.98,-1.3,-1.08,-1.46,-1.22,-1,-1.14],
[-1.05,-1.18,-.95,-1.12,-1.28,-1.02,-1.38,-1.2,-1.5,-1.3,-1.62,-1.42,-1.72,-1.48,-1.58,-1.36],
]


def expand(rows, offset):
    times, values = [], []
    for i, row in enumerate(rows):
        for j, v in enumerate(row):
            times.append(i * CHUNK_SEC + (j + offset) * CHUNK_SEC / len(row))
            values.append(v)
    return times, values


t1, v1 = expand(x_coord_rows, 0.0)
t2, v2 = expand(x_core_rows, 0.5)
t3, v3 = expand(y_coord_rows, 0.0)
t4, v4 = expand(y_core_rows, 0.5)

fig = go.Figure()
fig.add_trace(go.Scatter(x=t1 + t2, y=v1 + v2, mode="markers", name="X coordinate (pixel)",
                         marker=dict(color="#1f77b4", size=6)))
fig.add_trace(go.Scatter(x=t3 + t4, y=v3 + v4, mode="markers", name="Y coordinate (pixel)",
                         marker=dict(color="#ff7f0e", size=6)))

FONT = "DejaVu Sans"
axis_common = dict(showgrid=False, zeroline=False, showline=True, linecolor="#444444",
                   linewidth=1.3, mirror=True, ticks="outside", ticklen=5, tickwidth=1.1,
                   tickcolor="#333333", tickfont=dict(family=FONT, size=19, color="#111111"))
fig.update_layout(
    width=1627, height=562, paper_bgcolor="white", plot_bgcolor="white",
    margin=dict(l=76, r=0, t=5, b=57),
    font=dict(family=FONT, color="#111111"),
    legend=dict(x=0.9974, y=0.988, xanchor="right", yanchor="top", bgcolor="rgba(255,255,255,0.8)",
                bordercolor="#d5d5d5", borderwidth=1, font=dict(family=FONT, size=20),
                itemwidth=48, tracegroupgap=0),
)
fig.update_xaxes(range=[-180.6, 3776], tickvals=x_ticks,
                 title=dict(text=x_title, font=dict(family=FONT, size=20.5), standoff=2), **axis_common)
fig.update_yaxes(range=[-2.546, 1.987], tickvals=y_ticks, ticktext=y_tick_labels,
                 title=dict(text=y_title, font=dict(family=FONT, size=20.5), standoff=2), **axis_common)
fig.write_html("out.html", post_script="document.body.style.margin='0';",
               config={"displayModeBar": False})
